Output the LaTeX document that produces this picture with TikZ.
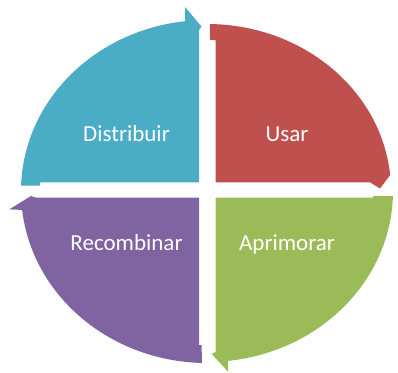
\documentclass[tikz,border=0pt]{standalone}
\usepackage{fontspec}
\setmainfont{Carlito}
\definecolor{azul}{HTML}{4BACC6}
\definecolor{rojo}{HTML}{C0504D}
\definecolor{verde}{HTML}{9BBB59}
\definecolor{morado}{HTML}{8064A2}

\begin{document}
\begin{tikzpicture}[x=1pt,y=1pt,
  segment/.style={fill=#1,draw=none},
  seglabel/.style={text=white,anchor=base,font=\fontsize{23}{27}\selectfont}]
\useasboundingbox (0,0) rectangle (398,-372);
% Distribuir
\path[segment=azul] (199,-182.3) -- (199,-30) -- (201.5,-26.5) -- (185,-7)
  -- ({207+186*cos(96.79)},{-191+171*sin(96.79)})
  arc[start angle=96.79, end angle=178.16, x radius=186, y radius=171]
  -- (40,-185.5) -- (40,-182.3) -- cycle;
% Usar
\path[segment=rojo] (215.5,-182.3) -- (215.5,-40) -- (210,-40)
  -- ({207+184*cos(89.07)},{-191+167*sin(89.07)})
  arc[start angle=89.07, end angle=5.5, x radius=184, y radius=167]
  -- (380,-188.5) -- (370,-182.3) -- cycle;
% Aprimorar
\path[segment=verde] (215.5,-197.7) -- (373,-197.7) -- (373,-196)
  -- ({207+186*cos(-1.68)},{-191+171*sin(-1.68)})
  arc[start angle=-1.68, end angle=-83.5, x radius=186, y radius=171]
  -- (228,-371.5) -- (211.7,-354) -- (215.5,-352) -- cycle;
% Recombinar
\path[segment=morado] (199,-197.7) -- (199,-345) -- (201.7,-345)
  -- ({207+186*cos(268.4)},{-191+172*sin(268.4)})
  arc[start angle=268.4, end angle=186.34, x radius=186, y radius=172]
  -- (9.3,-209.3) -- (31,-196) -- (36,-197.7) -- cycle;

\node[seglabel] (distribuir) at (126.5,-141.7) {Distribuir};
\node[seglabel] (usar) at (287,-141.7) {Usar};
\node[seglabel] (recombinar) at (126.5,-250.7) {Recombinar};
\node[seglabel] (aprimorar) at (287,-250.7) {Aprimorar};
\end{tikzpicture}
\end{document}
